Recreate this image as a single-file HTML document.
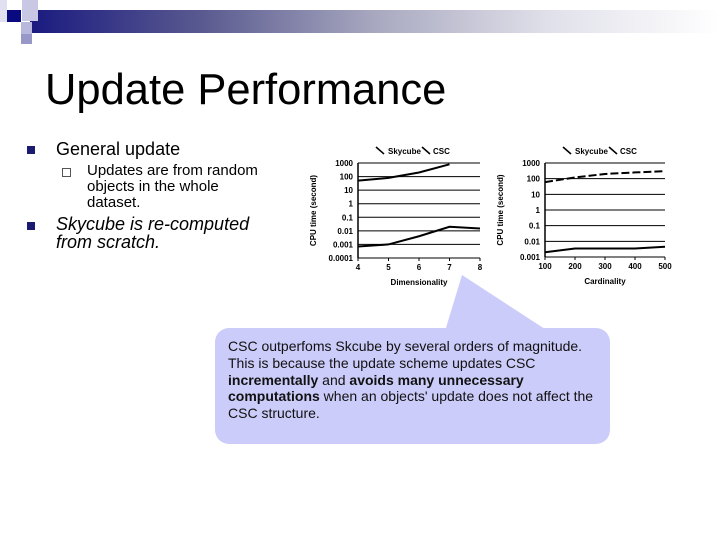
<!DOCTYPE html>
<html><head><meta charset="utf-8"><style>
body{margin:0;width:720px;height:540px;background:#fff;position:relative;overflow:hidden;font-family:"Liberation Sans",Arial,sans-serif}
.abs{position:absolute}
</style></head><body>
<div class="abs" style="left:30px;top:10px;width:690px;height:23px;background:linear-gradient(90deg,#1a1a80 0%,#5a5a90 25%,#a8a8c0 50%,#e0e0ea 75%,#fff 100%)"></div>
<div class="abs" style="left:7px;top:10px;width:14px;height:12px;background:#0a0a80"></div>
<div class="abs" style="left:22px;top:0px;width:16px;height:21px;background:#c8c8e4"></div>
<div class="abs" style="left:21px;top:22px;width:11px;height:12px;background:#b8b8dc"></div>
<div class="abs" style="left:21px;top:34px;width:11px;height:10px;background:#9898c8"></div>
<div class="abs" style="left:0px;top:0px;width:7px;height:22px;background:#e0e0f0"></div>

<div class="abs" style="left:45px;top:66px;font-size:43.5px;color:#000">Update Performance</div>

<div class="abs" style="left:27px;top:146px;width:8px;height:8px;background:#1a1a70"></div>
<div class="abs" style="left:56px;top:139px;font-size:18px">General update</div>
<div class="abs" style="left:62px;top:168px;width:7px;height:7px;border:1px solid #555"></div>
<div class="abs" style="left:87px;top:163px;font-size:15px;line-height:16px">Updates are from random<br>objects in the whole<br>dataset.</div>
<div class="abs" style="left:27px;top:222px;width:8px;height:8px;background:#1a1a70"></div>
<div class="abs" style="left:56px;top:215px;font-size:18px;font-style:italic;line-height:18px">Skycube is re-computed<br>from scratch.</div>

<svg class="abs" style="left:0;top:0" width="720" height="540">
<polygon points="445,331 462,275 548,331" fill="#ccccfa"/>
<rect x="215" y="328" width="395" height="116" rx="14" fill="#ccccfa"/>
<g id="c1"></g>
<g id="c2"></g>
</svg>
<div class="abs" style="left:228px;top:338px;font-size:14px;line-height:16.8px;color:#111;width:380px;white-space:nowrap">CSC outperfoms Skcube by several orders of magnitude.<br>This is because the update scheme updates CSC<br><b>incrementally</b> and <b>avoids many unnecessary<br>computations</b> when an objects' update does not affect the<br>CSC structure.</div>

<script>
const dimCats=[4,5,6,7,8];
const dimSkycube=[50,80,200,800,null];
const dimCSC=[0.0007,0.001,0.004,0.02,0.015];
const dimYTicks=["1000","100","10","1","0.1","0.01","0.001","0.0001"];
const cardCats=[100,200,300,400,500];
const cardSkycube=[60,120,200,250,300];
const cardCSC=[0.002,0.0035,0.0035,0.0035,0.0045];
const cardYTicks=["1000","100","10","1","0.1","0.01","0.001"];
const NS="http://www.w3.org/2000/svg";
function mk(p,t,a){const e=document.createElementNS(NS,t);for(const k in a)e.setAttribute(k,a[k]);p.appendChild(e);return e;}
function chart(g,o){
  const xs=v=>o.x0+(v-o.cats[0])/(o.cats[o.cats.length-1]-o.cats[0])*(o.x1-o.x0);
  const ys=v=>o.y0+(Math.log10(o.ymax)-Math.log10(v))/(Math.log10(o.ymax)-Math.log10(o.ymin))*(o.y1-o.y0);
  o.yt.forEach(t=>{const y=ys(parseFloat(t));
    const l=mk(g,'line',{x1:o.x0,x2:o.x1,y1:y,y2:y,stroke:'#000','stroke-width':1});
    
    
    const tx=mk(g,'text',{x:o.x0-5,y:y+3,'font-size':8,'font-weight':'bold','text-anchor':'end'});tx.textContent=t;
    
    });
  mk(g,'line',{x1:o.x0,x2:o.x0,y1:o.y0,y2:o.y1,stroke:'#000','stroke-width':1.5});
  o.cats.forEach(c=>{const x=xs(c);
    mk(g,'line',{x1:x,x2:x,y1:o.y1,y2:o.y1+3,stroke:'#000'});
    const tx=mk(g,'text',{x:x,y:o.y1+12,'font-size':8,'font-weight':'bold','text-anchor':'middle'});tx.textContent=c;
    
    });
  [[o.s1,o.dash1,'series-skycube'],[o.s2,'','series-csc']].forEach(([s,d,n])=>{
    let pts=[];s.forEach((v,i)=>{if(v!=null)pts.push(xs(o.cats[i])+','+ys(v));});
    const p=mk(g,'polyline',{points:pts.join(' '),fill:'none',stroke:'#000','stroke-width':2,'stroke-dasharray':d});
    
    });
  const yt=mk(g,'text',{x:0,y:0,'font-size':8,'font-weight':'bold','text-anchor':'middle',transform:`translate(${o.x0-42},${(o.y0+o.y1)/2}) rotate(-90)`});yt.textContent='CPU time (second)';
  
  
  const xt=mk(g,'text',{x:(o.x0+o.x1)/2,y:o.y1+27,'font-size':8,'font-weight':'bold','text-anchor':'middle'});xt.textContent=o.xt;
  
  
  const lx=o.lx;
  mk(g,'line',{x1:lx,y1:147,x2:lx+8,y2:154,stroke:'#000','stroke-width':1.5});
  const l1=mk(g,'text',{x:lx+12,y:154,'font-size':8,'font-weight':'bold'});l1.textContent='Skycube';
  
  
  mk(g,'line',{x1:lx+46,y1:147,x2:lx+54,y2:154,stroke:'#000','stroke-width':1.5});
  const l2=mk(g,'text',{x:lx+57,y:154,'font-size':8,'font-weight':'bold'});l2.textContent='CSC';
  
  
}
chart(document.getElementById('c1'),{x0:358,x1:480,y0:163,y1:258,ymax:1000,ymin:0.0001,cats:dimCats,s1:dimSkycube,s2:dimCSC,yt:dimYTicks,xt:'Dimensionality',lx:376,dash1:''});
chart(document.getElementById('c2'),{x0:545,x1:665,y0:163,y1:257,ymax:1000,ymin:0.001,cats:cardCats,s1:cardSkycube,s2:cardCSC,yt:cardYTicks,xt:'Cardinality',lx:563,dash1:'8,3'});
</script>
</body></html>
